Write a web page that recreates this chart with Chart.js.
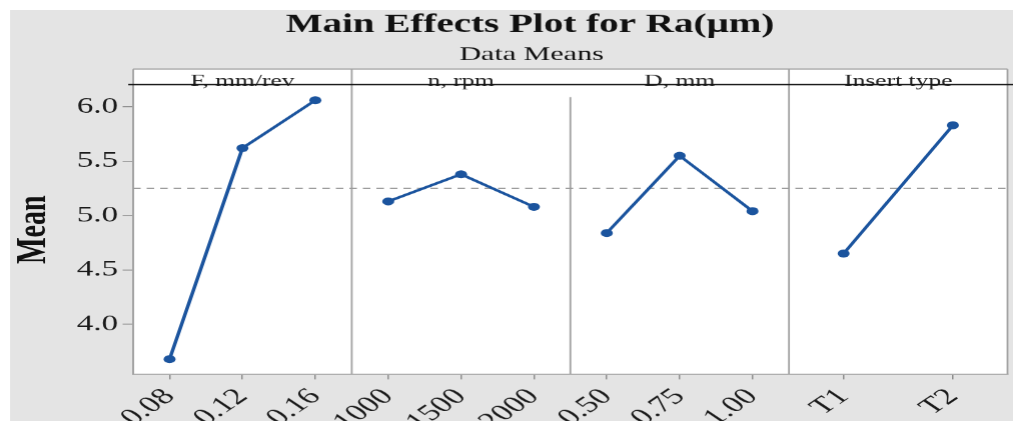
<!DOCTYPE html>
<html>
<head>
<meta charset="utf-8">
<title>Main Effects Plot for Ra</title>
<script src="https://cdn.jsdelivr.net/npm/chart.js@4.4.1/dist/chart.umd.min.js"></script>
<style>
  html, body { margin: 0; padding: 0; background: #fff; overflow: hidden; }
  /* the source picture is stretched sideways by about 1.5,
     so the chart is laid out 675 wide and shown 1013 wide */
  #effects { display: block; width: 1013px !important; height: 421px !important; }
</style>
</head>
<body>
<canvas id="effects" width="675" height="421"></canvas>
<script>
// --- DATA ---
const factors = ['F, mm/rev', 'n, rpm', 'D, mm', 'Insert type'];
const feedLevels = ['0.08', '0.12', '0.16'];
const feedMeans = [3.68, 5.62, 6.06];
const speedLevels = ['1000', '1500', '2000'];
const speedMeans = [5.13, 5.38, 5.08];
const depthLevels = ['0.50', '0.75', '1.00'];
const depthMeans = [4.84, 5.55, 5.04];
const insertLevels = ['T1', 'T2'];
const insertMeans = [4.65, 5.83];
const meanTicks = [4.0, 4.5, 5.0, 5.5, 6.0];
const grandMean = 5.25;

const levels = [feedLevels, speedLevels, depthLevels, insertLevels];
const means = [feedMeans, speedMeans, depthMeans, insertMeans];

const PANEL = 3;            // x units per factor panel
const HEADER_TOP = 69;      // top of the factor name strip
const BLUE = '#1b549e';
const FRAME = '#a3a3a3';
const SERIF = "'Liberation Serif', 'Times New Roman', serif";

// where level i of panel p sits on the shared x scale
const levelX = (p, i) => p * PANEL + PANEL * (i + 0.5) / levels[p].length;

// --- BUILD DATASETS ---
const xTicks = [];
const datasets = [];
levels.forEach((lv, p) => {
    lv.forEach((label, i) => xTicks.push({ value: levelX(p, i), label: label }));
    datasets.push({
        label: factors[p],
        data: means[p].map((m, i) => ({ x: levelX(p, i), y: m })),
        borderColor: BLUE,
        backgroundColor: BLUE,
        borderWidth: 2.4,
        pointRadius: 4,
        pointBorderWidth: 0,
        pointBackgroundColor: BLUE
    });
});
// grand mean reference line (last, so it is drawn under the factor lines)
datasets.push({
    label: 'Mean',
    data: [{ x: 0, y: grandMean }, { x: PANEL * factors.length, y: grandMean }],
    borderColor: '#9c9c9c',
    borderWidth: 1,
    borderDash: [5, 4],
    pointRadius: 0
});

// --- PANEL FRAMES, FACTOR HEADERS AND TITLES ---
const panelFrame = {
    id: 'panelFrame',
    beforeDraw(chart) {
        const { ctx, chartArea: a } = chart;
        ctx.save();
        ctx.fillStyle = '#ffffff';
        ctx.fillRect(0, 0, chart.width, chart.height);
        ctx.fillStyle = '#e4e4e4';
        ctx.fillRect(6.7, 10, chart.width, chart.height);
        ctx.fillStyle = '#ffffff';
        ctx.fillRect(a.left, HEADER_TOP, a.right - a.left, a.bottom - HEADER_TOP);
        ctx.restore();
    },
    beforeDatasetsDraw(chart) {
        const { ctx, chartArea: a, scales: { x } } = chart;
        ctx.save();
        ctx.strokeStyle = FRAME;
        ctx.lineWidth = 1.2;
        ctx.beginPath();
        // strip top, outer sides
        ctx.moveTo(a.left, HEADER_TOP); ctx.lineTo(a.right, HEADER_TOP);
        ctx.moveTo(a.left, HEADER_TOP); ctx.lineTo(a.left, a.bottom);
        ctx.moveTo(a.right, HEADER_TOP); ctx.lineTo(a.right, a.bottom);
        // dividers between factors (the n | D one starts a bit lower, as in the original)
        for (let p = 1; p < factors.length; p++) {
            const px = x.getPixelForValue(p * PANEL);
            ctx.moveTo(px, p === 2 ? 97 : HEADER_TOP);
            ctx.lineTo(px, a.bottom);
        }
        ctx.stroke();

        // factor names
        ctx.fillStyle = '#222';
        ctx.font = `17px ${SERIF}`;
        ctx.textAlign = 'center';
        ctx.textBaseline = 'alphabetic';
        factors.forEach((name, p) => {
            ctx.fillText(name, x.getPixelForValue(p * PANEL + PANEL / 2), a.top + 1);
        });

        // dark rule under the strip
        ctx.strokeStyle = '#151515';
        ctx.lineWidth = 1.2;
        ctx.beginPath();
        ctx.moveTo(a.left - 3.3, a.top - 0.5);
        ctx.lineTo(chart.width, a.top - 0.5);
        ctx.stroke();
        ctx.restore();
    },
    afterDraw(chart) {
        const { ctx } = chart;
        ctx.save();
        ctx.fillStyle = '#111';
        ctx.textAlign = 'center';
        ctx.textBaseline = 'alphabetic';
        ctx.font = `bold 26px ${SERIF}`;
        ctx.fillText('Main Effects Plot for Ra(µm)', 353, 32);
        ctx.font = `20px ${SERIF}`;
        ctx.fillText('Data Means', 354, 60);
        ctx.restore();
    }
};

// --- RENDER THE CHART ---
const ctx = document.getElementById('effects').getContext('2d');

new Chart(ctx, {
    type: 'line',
    data: { datasets: datasets },
    plugins: [panelFrame],
    options: {
        responsive: false,
        devicePixelRatio: 1.5,
        animation: false,
        layout: { padding: { top: 85, right: 1.7, left: 0, bottom: 0 } },
        plugins: {
            legend: { display: false },
            tooltip: { enabled: false }
        },
        scales: {
            x: {
                type: 'linear',
                min: 0,
                max: PANEL * factors.length,
                afterBuildTicks: scale => { scale.ticks = xTicks.map(t => ({ value: t.value })); },
                afterFit: scale => { scale.height = 47; },
                ticks: {
                    autoSkip: false,
                    minRotation: 45,
                    maxRotation: 45,
                    padding: 4,
                    color: '#1a1a1a',
                    font: { family: SERIF, size: 23 },
                    callback: (value, i) => xTicks[i].label
                },
                grid: { drawOnChartArea: false, tickLength: 5, color: '#8f8f8f' },
                border: { color: FRAME, width: 1.2 }
            },
            y: {
                min: 3.54,
                max: 6.2,
                afterBuildTicks: scale => { scale.ticks = meanTicks.map(v => ({ value: v })); },
                afterFit: scale => { scale.width = 88.7; },
                ticks: {
                    padding: 3,
                    color: '#1a1a1a',
                    font: { family: SERIF, size: 22 },
                    callback: value => value.toFixed(1)
                },
                grid: { drawOnChartArea: false, tickLength: 7, color: '#8f8f8f' },
                border: { color: FRAME, width: 1.2 },
                title: {
                    display: true,
                    text: 'Mean',
                    color: '#111',
                    font: { family: SERIF, size: 28, weight: 'bold' },
                    padding: { top: 6, bottom: 0 }
                }
            }
        }
    }
});
</script>
</body>
</html>
